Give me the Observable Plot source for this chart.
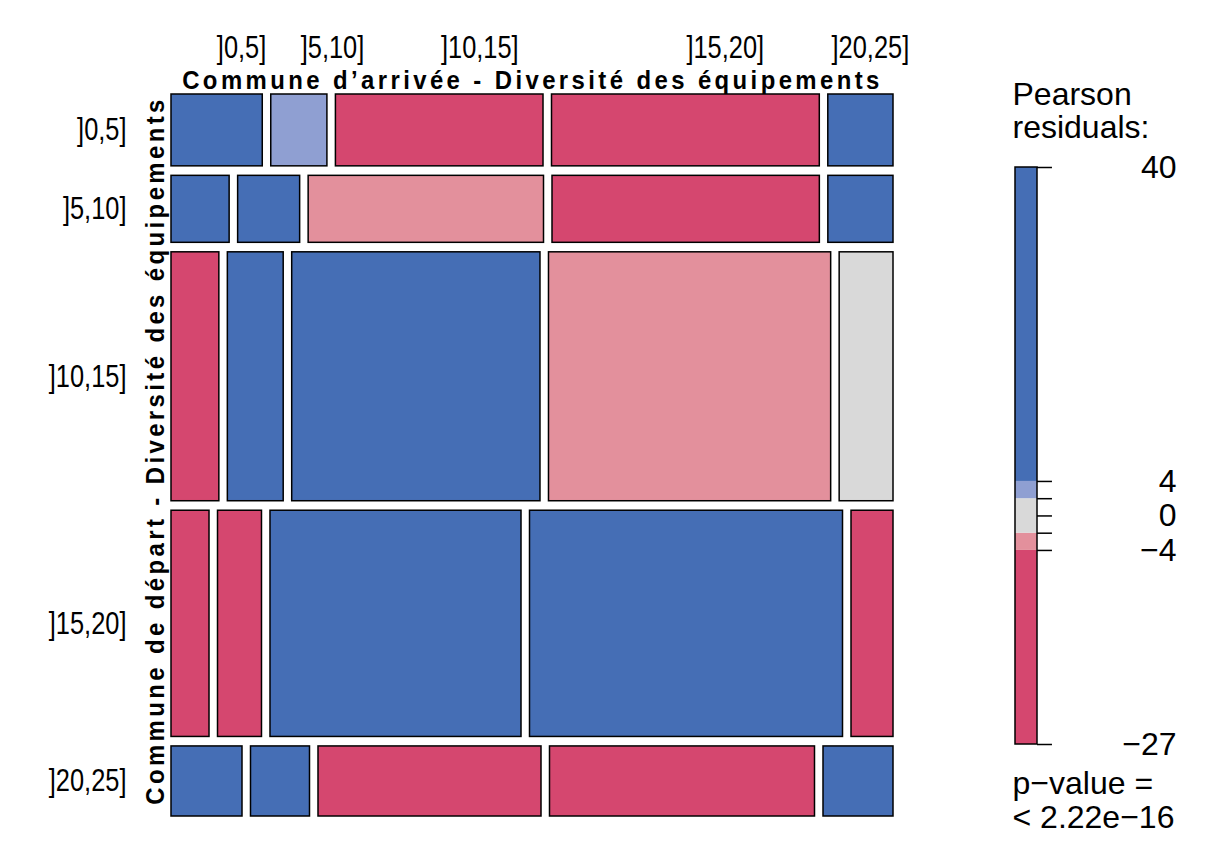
<!DOCTYPE html>
<html><head><meta charset="utf-8">
<script src="https://cdn.jsdelivr.net/npm/d3@7"></script>
<script src="https://cdn.jsdelivr.net/npm/@observablehq/plot@0.6"></script>
<style>
body{margin:0;background:#fff;}
#wrap{position:relative;width:1210px;height:851px;overflow:hidden;}
#wrap svg{position:absolute;top:0;}
</style></head><body><div id="wrap"></div>
<script>
// Categories
const rowLabels = ["]0,5]", "]5,10]", "]10,15]", "]15,20]", "]20,25]"];
const colLabels = ["]0,5]", "]5,10]", "]10,15]", "]15,20]", "]20,25]"];
// top label anchors (fraction of the mosaic width)
const colLabelPos = [0.097, 0.223, 0.427, 0.767, 0.968];

// estimated flows (départ row × arrivée column)
const counts_0_5   = [655, 403, 1490, 1922, 468];
const counts_5_10  = [389, 415, 1575, 1789, 436];
const counts_10_15 = [1190, 1389, 6175, 7018, 1339];
const counts_15_20 = [859, 994, 5673, 7074, 949];
const counts_20_25 = [497, 413, 1561, 1855, 490];

// estimated Pearson residuals (sign / class read from shading)
const resid_0_5   = [25, 3, -12, -15, 30];
const resid_5_10  = [18, 20, -3, -10, 22];
const resid_10_15 = [-8, 9, 12, -3, 1];
const resid_15_20 = [-26.5, -20, 15, 10, -14];
const resid_20_25 = [35, 40.4, -18, -16, 28];

// legend
const legendBreaks = [40.4, 4, 2, 0, -2, -4, -26.5];
const legendLabelVals = [40.4, 4, 0, -4, -26.5];
const legendLabels = ["40", "4", "0", "\u22124", "\u221227"];
const shadeCuts = [-4, -2, 2, 4];
const shadeColors = ["#D5476F", "#E3909C", "#D9D9D9", "#8F9FD2", "#456EB5"];

const titleTop = "Commune d\u2019arrivée - Diversité des équipements";
const titleLeft = "Commune de départ - Diversité des équipements";

const counts = [counts_0_5, counts_5_10, counts_10_15, counts_15_20, counts_20_25];
const resid = [resid_0_5, resid_5_10, resid_10_15, resid_15_20, resid_20_25];

const gx = 8.5 / 688, gy = 9.5 / 684;
const W = 1 + 4 * gx, H = 1 + 4 * gy;
const rowTot = counts.map(r => d3.sum(r));
const total = d3.sum(rowTot);
const cells = [], rows = [];
let yy = 0;
counts.forEach((r, i) => {
  const h = rowTot[i] / total;
  let xx = 0;
  r.forEach((c, j) => {
    const w = c / rowTot[i];
    cells.push({x1: xx, x2: xx + w, y1: yy, y2: yy + h, resid: resid[i][j]});
    xx += w + gx;
  });
  rows.push({label: rowLabels[i], y: yy + h / 2});
  yy += h + gy;
});
const cols = colLabels.map((l, j) => ({label: l, x: colLabelPos[j] * W}));

const sans = "'Liberation Sans', Arial, sans-serif";

const main = Plot.plot({
  width: 960, height: 851, margin: 0,
  style: {background: "transparent", fontFamily: sans, color: "black"},
  x: {domain: [0, W], range: [171, 893], axis: null},
  y: {domain: [0, H], range: [94, 816], axis: null},
  color: {type: "threshold", domain: shadeCuts, range: shadeColors},
  marks: [
    Plot.rect(cells, {x1: "x1", x2: "x2", y1: "y1", y2: "y2", fill: "resid", stroke: "black", strokeWidth: 1.5}),
    Plot.text(rows, {x: 0, y: "y", text: "label", dx: -45, textAnchor: "end", fontSize: 31, fill: "black"}),
    Plot.text(cols, {x: "x", y: 0, text: "label", dy: -46, fontSize: 31, fill: "black"}),
    Plot.text([titleTop], {x: W / 2, y: 0, text: d => d, dy: -14, fontSize: 26, fontWeight: "bold", fill: "black"}),
    Plot.text([titleLeft], {x: 0, y: H / 2, text: d => d, dx: -16, dy: -5, rotate: -90, fontSize: 26, fontWeight: "bold", fill: "black"})
  ]
});
main.style.left = "0px";

// horizontally condensed lettering as in the reference
d3.select(main).selectAll("text").each(function() {
  const el = d3.select(this);
  const s = el.text();
  const isTitle = s === titleTop || s === titleLeft;
  const k = isTitle ? 0.92 : 0.82;
  const t = el.attr("transform");
  if (t) el.attr("transform", t + ` scale(${k},1)`);
  else {
    const x = +el.attr("x") || 0, y = +el.attr("y") || 0;
    el.attr("x", null).attr("y", null).attr("transform", `translate(${x},${y}) scale(${k},1)`);
  }
  if (isTitle) el.style("letter-spacing", "3.7px");
});

const bands = d3.range(shadeColors.length).map(k => ({
  y1: k === 0 ? -26.5 : shadeCuts[k - 1],
  y2: k === shadeColors.length - 1 ? 40.4 : shadeCuts[k],
  fill: shadeColors[k]
}));
const legLabels = legendLabelVals.map((v, k) => ({v, t: legendLabels[k]}));

const legend = Plot.plot({
  width: 250, height: 851, margin: 0,
  style: {background: "transparent", fontFamily: sans, color: "black"},
  x: {domain: [0, 1], range: [55, 77], axis: null},
  y: {domain: [-26.5, 40.4], range: [744, 167], axis: null},
  marks: [
    Plot.rect(bands, {x1: 0, x2: 1, y1: "y1", y2: "y2", fill: "fill"}),
    Plot.rect([0], {x1: 0, x2: 1, y1: -26.5, y2: 40.4, fill: "none", stroke: "black", strokeWidth: 1.5}),
    Plot.ruleY(legendBreaks, {x1: 1, x2: 1.68, stroke: "black", strokeWidth: 1.5}),
    Plot.text(legLabels, {x: 1, y: "v", text: "t", dx: 139, textAnchor: "end", fontSize: 32, fill: "black"}),
    Plot.text(["Pearson\nresiduals:"], {x: 0, y: 40.4, text: d => d, dx: -3, dy: -30, textAnchor: "start", lineAnchor: "bottom", lineHeight: 1.02, fontSize: 32, fill: "black"}),
    Plot.text(["p\u2212value =\n< 2.22e\u221216"], {x: 0, y: -26.5, text: d => d, dx: -3, dy: 83, textAnchor: "start", lineAnchor: "bottom", lineHeight: 1.06, fontSize: 32, fill: "black"})
  ]
});
legend.style.left = "960px";

const wrap = document.getElementById("wrap");
wrap.appendChild(main);
wrap.appendChild(legend);
</script></body></html>
